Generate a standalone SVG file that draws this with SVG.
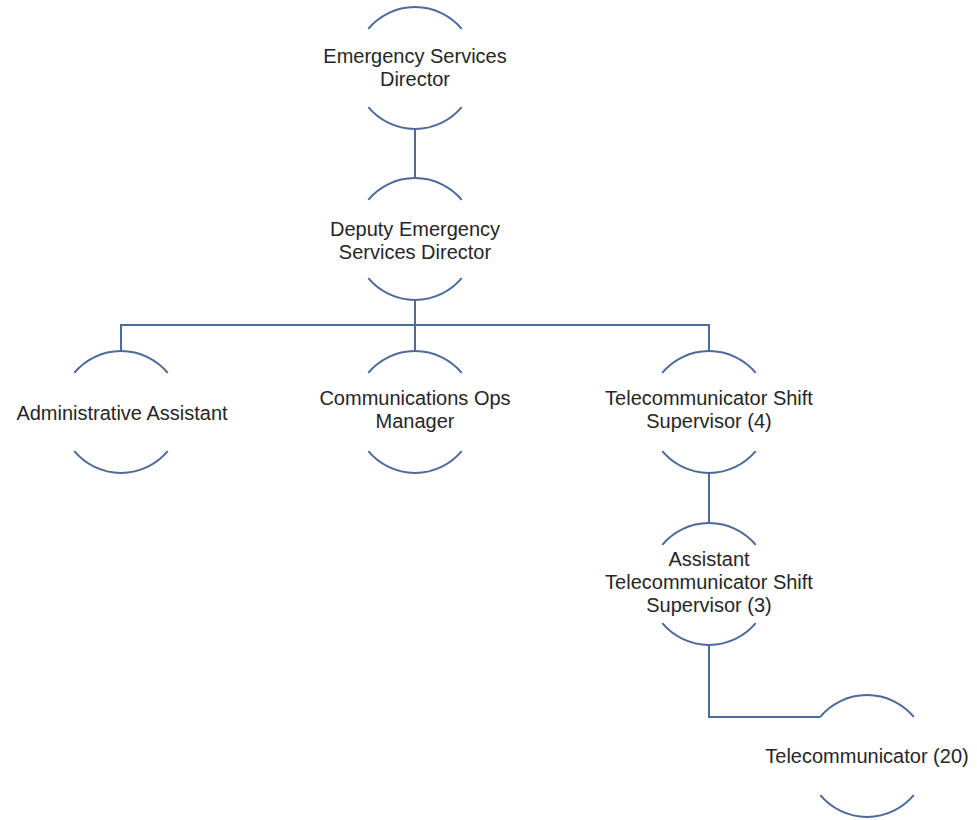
<svg xmlns="http://www.w3.org/2000/svg" xmlns:xlink="http://www.w3.org/1999/xlink" width="977" height="820" viewBox="0 0 977 820">
<style>
.arc{fill:none;stroke:#4e6a9b;stroke-width:2}
.con{fill:none;stroke:#4e6a9b;stroke-width:2}
text{font-family:"Liberation Sans",Arial,sans-serif;font-size:20px;fill:#262626;text-anchor:middle}
</style>
<defs>
<path id="arcs" class="arc" d="M-46.7,-39.2 A61,61 0 0 1 46.7,-39.2 M-46.7,39.2 A61,61 0 0 0 46.7,39.2"/>
</defs>
<rect width="977" height="820" fill="#ffffff"/>
<g id="connectors">
<path class="con" d="M415,129 V178"/>
<path class="con" d="M415,300 V325"/>
<path class="con" d="M121,351 V325 H709 V351"/>
<path class="con" d="M415,325 V351"/>
<path class="con" d="M709,473 V523"/>
<path class="con" d="M709,645 V717 H820.3"/>
</g>
<g id="n1">
<use xlink:href="#arcs" x="415" y="68"/>
<text x="415" y="63">Emergency Services</text>
<text x="415" y="86">Director</text>
</g>
<g id="n2">
<use xlink:href="#arcs" x="415" y="239"/>
<text x="415" y="236">Deputy Emergency</text>
<text x="415" y="259">Services Director</text>
</g>
<g id="n3">
<use xlink:href="#arcs" x="121" y="412"/>
<text x="122" y="420">Administrative Assistant</text>
</g>
<g id="n4">
<use xlink:href="#arcs" x="415" y="412"/>
<text x="415" y="405">Communications Ops</text>
<text x="415" y="428">Manager</text>
</g>
<g id="n5">
<use xlink:href="#arcs" x="709" y="412"/>
<text x="709" y="405">Telecommunicator Shift</text>
<text x="709" y="428">Supervisor (4)</text>
</g>
<g id="n6">
<use xlink:href="#arcs" x="709" y="584"/>
<text x="709" y="566">Assistant</text>
<text x="709" y="589">Telecommunicator Shift</text>
<text x="709" y="612">Supervisor (3)</text>
</g>
<g id="n7">
<use xlink:href="#arcs" x="867" y="756"/>
<text x="867" y="763">Telecommunicator (20)</text>
</g>
</svg>
